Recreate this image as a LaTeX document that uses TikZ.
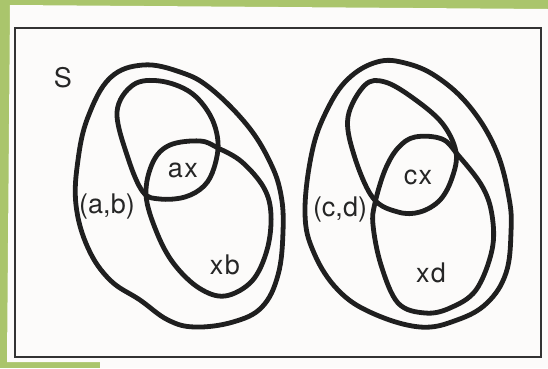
\documentclass[tikz,border=0pt]{standalone}
\usepackage{fontspec}
\setmainfont{TeX Gyre Heros}
\definecolor{scangreen}{RGB}{170,197,108}
\definecolor{paper}{RGB}{252,251,250}
\tikzset{
  blob/.style={line width=4.8pt, line join=round, draw=black!88},
  lbl/.style={font=\fontsize{27}{27}\selectfont, inner sep=0pt, text=black!85},
}
\begin{document}
\begin{tikzpicture}[x=1pt,y=-1pt]
\useasboundingbox (0,0) rectangle (548,368);
\fill[scangreen] (0,0) rectangle (548,368);
\fill[paper] (10,5) -- (548,9) -- (548,368) -- (100,368) -- (100,362) -- (7,362) -- cycle;
\draw[line width=2pt, draw=black!80] (15,28) rectangle (541,357);

% left group
\draw[blob] plot[smooth cycle, tension=0.65] coordinates {
  (143,65) (180,72) (210,88) (247,125) (270,162) (281,195) (283,232) (278,275)
  (262,307) (233,322) (195,327) (168,320) (140,300) (110,280) (88,248) (76,205)
  (78,160) (88,117) (110,78)};
\draw[blob] plot[smooth cycle, tension=0.6] coordinates {
  (143,192) (128,158) (117,112) (133,85) (160,81) (190,92) (210,115) (218,142)
  (214,168) (204,186) (185,197) (160,199)};
\draw[blob] plot[smooth cycle, tension=0.6] coordinates {
  (146,195) (153,162) (170,145) (200,141) (218,148) (242,162) (264,188) (271,215)
  (267,250) (252,281) (225,296) (199,288) (174,264) (157,233)};

% right group
\draw[blob] plot[smooth cycle, tension=0.65] coordinates {
  (377,62) (405,63) (437,77) (470,107) (496,150) (509,198) (511,232) (506,273)
  (487,303) (457,320) (420,327) (372,313) (338,290) (314,253) (305,213) (312,152)
  (327,110) (348,79)};
\draw[blob] plot[smooth cycle, tension=0.6] coordinates {
  (373,198) (354,155) (348,117) (365,85) (385,82) (413,98) (442,123) (456,152)
  (452,178) (440,200) (420,212) (398,212)};
\draw[blob] plot[smooth cycle, tension=0.6] coordinates {
  (375,203) (385,170) (398,148) (415,137) (442,139) (458,155) (482,186) (492,215)
  (492,250) (476,290) (450,308) (425,313) (398,303) (381,265) (373,225)};

% labels
\node[lbl] (S)  at (63,78)  {S};
\node[lbl] (ax) at (183,170) {a\kern1.5pt x};
\node[lbl] (ab) at (107,207) {(a,b)};
\node[lbl] (xb) at (225,265) {x\kern1.5pt b};
\node[lbl] (cx) at (418,177) {c\kern1.5pt x};
\node[lbl] (cd) at (340,210) {(c,d)};
\node[lbl] (xd) at (431,273) {x\kern1.5pt d};
\end{tikzpicture}
\end{document}
